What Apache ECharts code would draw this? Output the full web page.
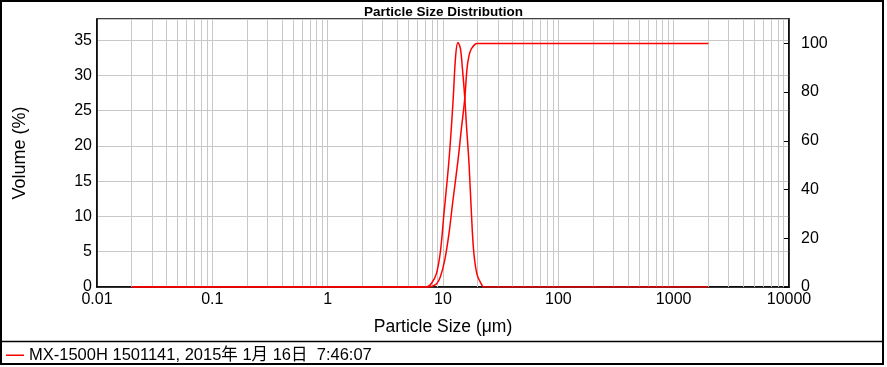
<!DOCTYPE html>
<html>
<head>
<meta charset="utf-8">
<script src="https://cdn.jsdelivr.net/npm/echarts@6/dist/echarts.min.js"></script>
<style>html,body{margin:0;padding:0;background:#fff}#c{width:887px;height:367px}</style>
</head>
<body>
<div id="c"></div>
<script>
// ---- data ----
const seriesName = 'MX-1500H 1501141, 2015年 1月 16日  7:46:07';
const freqSizes  = [0.02, 6.5, 7.18, 7.93, 8.77, 9.49, 10.14, 11.27, 12.21, 12.89, 13.49, 14.16, 14.73, 15.42, 15.96, 16.81, 17.63, 18.47, 19.72, 21.53, 22.54, 2000];
const freqValues = [0,    0,   0,    0.5,  1.9,  5,    10,    18,    26.2,  32.9,  34.66, 33.8,  31,    27,    23,    17.5,  10.5,  5,     1.8,   0.4,   0,     0];
const cumSizes   = [0.02, 7.2, 7.93, 8.77, 9.49, 10.35, 11.27, 12.21, 13.49, 14.44, 15.42, 16.15, 16.81, 17.63, 18.83, 19.72, 2000];
const cumValues  = [0,    0,   0.2,  1.2,  4.2,  11,    22,    35.7,  52,    65,    77,    89.6,  95,    97.8,  99.5,  99.9,  99.9];
const xMin = 0.01, xMax = 10000;
const yLeftMax = 38, yLeftInterval = 5;
const yRightMax = 110, yRightInterval = 20;

// minor log grid positions (2..9 x 10^k)
const minorGrid = [];
for (let k = -2; k < 4; k++) for (let m = 2; m <= 9; m++) minorGrid.push(+(m * Math.pow(10, k)).toPrecision(6));

const FONT = '"Liberation Sans", Arial, "Noto Sans CJK JP", sans-serif';
const GRID_C = '#c8c8c8';

const chart = echarts.init(document.getElementById('c'), null, {renderer: 'canvas'});
chart.setOption({
  animation: false,
  backgroundColor: '#fff',
  textStyle: {fontFamily: FONT},
  title: {
    text: 'Particle Size Distribution', left: 'center', top: 1,
    textStyle: {fontFamily: FONT, fontSize: 13.5, fontWeight: 'bold', color: '#000'}
  },
  grid: {left: 97, right: 98, top: 19, bottom: 80, show: true, borderColor: '#000', borderWidth: 1.5, containLabel: false},
  legend: {
    data: [{name: seriesName, icon: 'rect'}], left: 1, top: 342, itemWidth: 18, itemHeight: 1.5, itemGap: 4,
    textStyle: {fontFamily: FONT, fontSize: 16.5, color: '#000'}
  },
  xAxis: {
    type: 'log', logBase: 10, min: xMin, max: xMax,
    name: 'Particle Size (μm)', nameLocation: 'middle', nameGap: 31,
    nameTextStyle: {fontFamily: FONT, fontSize: 17.5, color: '#000'},
    axisLine: {lineStyle: {color: '#000', width: 1.5}},
    axisTick: {show: false},
    axisLabel: {fontFamily: FONT, fontSize: 16, color: '#000', margin: 5,
      formatter: v => String(+(+v).toPrecision(6))},
    splitLine: {show: true, lineStyle: {color: GRID_C, width: 1}}
  },
  yAxis: [{
    type: 'value', min: 0, max: yLeftMax, interval: yLeftInterval, position: 'left',
    name: 'Volume (%)', nameLocation: 'middle', nameGap: 68,
    nameTextStyle: {fontFamily: FONT, fontSize: 18, color: '#000'},
    axisLine: {show: true, lineStyle: {color: '#000', width: 1.5}},
    axisTick: {show: false},
    axisLabel: {fontFamily: FONT, fontSize: 16, color: '#000', margin: 5, showMaxLabel: false,
      formatter: v => (v % yLeftInterval === 0 ? String(v) : '')},
    splitLine: {show: true, lineStyle: {color: GRID_C, width: 1}}
  }, {
    type: 'value', min: 0, max: yRightMax, interval: yRightInterval, position: 'right',
    axisLine: {show: true, lineStyle: {color: '#000', width: 1.5}},
    axisTick: {show: true, inside: true, length: 5, lineStyle: {color: '#000', width: 1}},
    axisLabel: {fontFamily: FONT, fontSize: 16, color: '#000', margin: 12, showMaxLabel: false,
      formatter: v => (v % yRightInterval === 0 ? String(v) : '')},
    splitLine: {show: false}
  }],
  series: [{
    name: '__grid', type: 'line', data: [], z: 1, silent: true,
    markLine: {
      silent: true, symbol: ['none', 'none'], label: {show: false}, animation: false,
      lineStyle: {color: GRID_C, width: 1, type: 'solid'},
      data: minorGrid.map(v => ({xAxis: v}))
    }
  }, {
    name: seriesName, type: 'line', yAxisIndex: 0, z: 5,
    data: freqSizes.map((s, i) => [s, freqValues[i]]),
    symbol: 'none', smooth: 0.35, lineStyle: {color: '#ff0000', width: 1.5}, itemStyle: {color: '#ff0000'}
  }, {
    name: seriesName, type: 'line', yAxisIndex: 1, z: 5,
    data: cumSizes.map((s, i) => [s, cumValues[i]]),
    symbol: 'none', smooth: 0.35, lineStyle: {color: '#ff0000', width: 1.5}, itemStyle: {color: '#ff0000'}
  }],
  graphic: [
    {type: 'rect', silent: true, z: 100, shape: {x: 1, y: 1, width: 882, height: 363},
     style: {fill: 'none', stroke: '#000', lineWidth: 2}},
    {type: 'line', silent: true, z: 100, shape: {x1: 1, y1: 341.5, x2: 883, y2: 341.5},
     style: {stroke: '#000', lineWidth: 1.5}}
  ]
});
</script>
</body>
</html>
